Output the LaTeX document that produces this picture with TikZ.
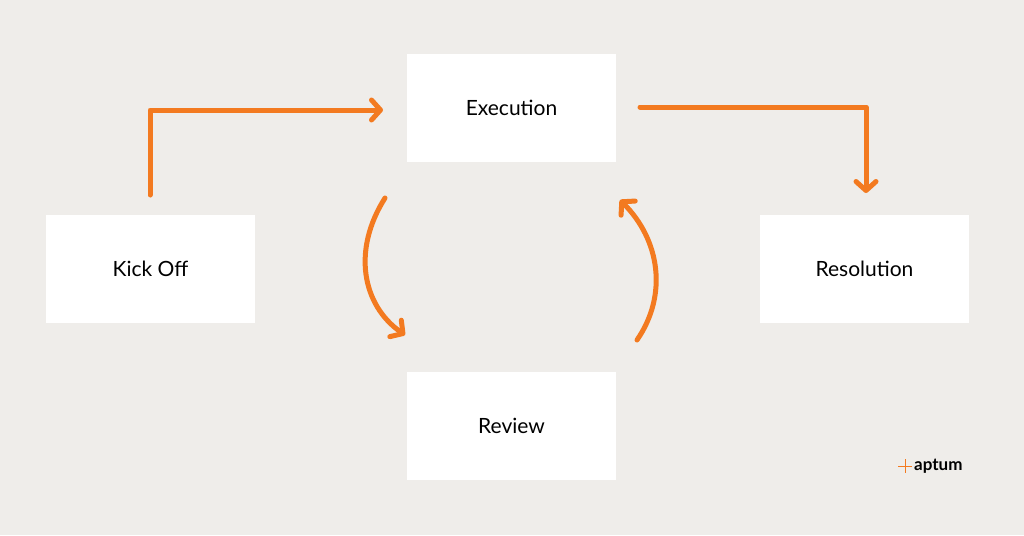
\documentclass[tikz,border=0pt]{standalone}
\usepackage{fontspec}
\setmainfont{Lato}
\usetikzlibrary{arrows.meta}
\definecolor{bg}{HTML}{EFEDEA}
\definecolor{org}{HTML}{F37A20}
\begin{document}
\begin{tikzpicture}[x=1pt,y=-1pt,
  box/.style={fill=white,draw=none,minimum width=209pt,minimum height=108pt,inner sep=0pt,font=\fontsize{21}{24}\selectfont},
  arr/.style={draw=org,line width=5pt,line cap=round,line join=round,-{Straight Barb[length=9pt,width=20pt,line width=5pt,round]}}]
\fill[bg] (0,0) rectangle (1024,535);
\useasboundingbox (0,0) rectangle (1024,535);
\node[box] (exe) at (511.5,108) {Execution};
\node[box] (kick) at (150.5,269) {Kick Off};
\node[box] (res) at (864.5,269) {Resolution};
\node[box] (rev) at (511.5,426) {Review};
\coordinate (k1) at (150,195);
\coordinate (k2) at (383,110);
\coordinate (e1) at (640,107);
\coordinate (e2) at (866,193);
\draw[arr] (k1) -- (150,110) -- (k2);
\draw[arr] (e1) -- (866,107) -- (e2);
\coordinate (l1) at (385,198);
\coordinate (l2) at (405,335);
\coordinate (r1) at (637,340);
\coordinate (r2) at (620,200);
\draw[arr] (l1) .. controls (352,250) and (362,305) .. (l2);
\draw[arr] (r1) .. controls (668,295) and (660,240) .. (r2);
\node[font=\fontsize{17}{20}\selectfont\bfseries,anchor=west,inner sep=0pt] (logo) at (914,466) {aptum};
\draw[org,line width=1pt] (898,466) -- (912,466) (905,459) -- (905,473);
\end{tikzpicture}
\end{document}
